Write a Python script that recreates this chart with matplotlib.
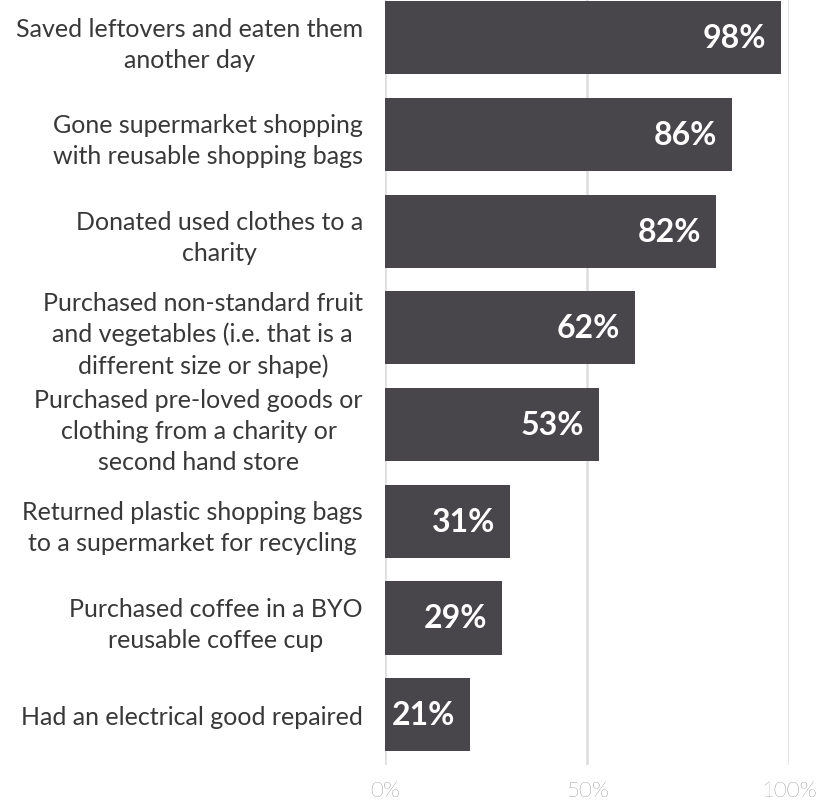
import matplotlib
matplotlib.use("Agg")
from matplotlib import pyplot as plt
import matplotlib.transforms as mtransforms

activities = [
    "Saved leftovers and eaten them\nanother day",
    "Gone supermarket shopping\nwith reusable shopping bags",
    "Donated used clothes to a\ncharity",
    "Purchased non-standard fruit\nand vegetables (i.e. that is a\ndifferent size or shape)",
    "Purchased pre-loved goods or\nclothing from a charity or\nsecond hand store",
    "Returned plastic shopping bags\nto a supermarket for recycling",
    "Purchased coffee in a BYO\nreusable coffee cup",
    "Had an electrical good repaired",
]
shares = [98, 86, 82, 62, 53, 31, 29, 21]
ticks = [0, 50, 100]
tick_labels = ["0%", "50%", "100%"]

bar_color = "#49464b"
plt.rcParams["font.family"] = ["Lato", "DejaVu Sans"]

W, H = 817, 804
fig = plt.figure(figsize=(W / 100, H / 100), dpi=100)
ax = fig.add_axes([385 / W, 1 - 766 / H, (789 - 385) / W, 766 / H])

pos = list(range(len(activities)))
ax.barh(pos, shares, height=0.755, color=bar_color, zorder=2)
ax.set_ylim(7.52, -0.4)
ax.set_xlim(0, 100)

for x in ticks:
    ax.axvline(x, color="#dddddd", lw=1.8, zorder=1)

ax.set_yticks(pos)
ax.set_yticklabels(activities, fontsize=18, fontweight="normal", color="#383838",
                   ha="right", multialignment="center", linespacing=1.42)
ax.tick_params(axis="y", length=0, pad=16)

ax.set_xticks(ticks)
ax.set_xticklabels(tick_labels, fontsize=16, fontweight="light", color="#444444")
ax.tick_params(axis="x", length=0, pad=11)

for s in ax.spines.values():
    s.set_visible(False)

offset = mtransforms.offset_copy(ax.transData, fig=fig, x=-15, y=0, units="dots")
for y, v in zip(pos, shares):
    ax.text(v, y, f"{v}%", transform=offset, ha="right", va="center",
            color="white", fontsize=23, fontweight="bold", zorder=3)

fig.savefig("out.png", dpi=100)
